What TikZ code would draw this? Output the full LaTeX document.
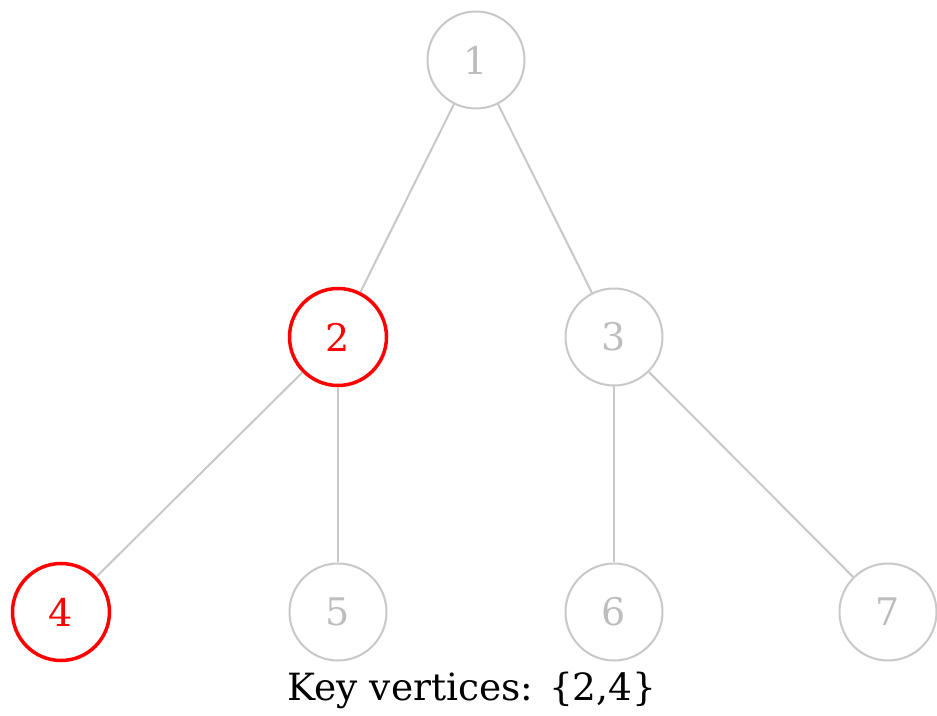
\documentclass[tikz,border=0pt]{standalone}
\usepackage{fontspec}
\setmainfont{DejaVu Serif}
\definecolor{edgegray}{HTML}{C8C8C8}
\definecolor{textgray}{HTML}{BDBDBD}
\definecolor{keyred}{HTML}{FF0000}
\begin{document}
\begin{tikzpicture}[x=1pt,y=1pt,
  vert/.style={circle,draw=edgegray,line width=2pt,minimum size=97pt,inner sep=0pt,
    text=textgray,font=\fontsize{38}{44}\selectfont},
  keyvert/.style={vert,draw=keyred,line width=3.5pt,text=keyred},
  edge/.style={draw=edgegray,line width=2pt}]
\useasboundingbox (0,0) rectangle (937,715);
\node[vert] (n1) at (476,655) {1};
\node[keyvert] (n2) at (338,378) {2};
\node[vert] (n3) at (614,378) {3};
\node[keyvert] (n4) at (61,103) {4};
\node[vert] (n5) at (338,103) {5};
\node[vert] (n6) at (614,103) {6};
\node[vert] (n7) at (888,103) {7};
\draw[edge] (n1) -- (n2);
\draw[edge] (n1) -- (n3);
\draw[edge] (n2) -- (n4);
\draw[edge] (n2) -- (n5);
\draw[edge] (n3) -- (n6);
\draw[edge] (n3) -- (n7);
\node[font=\fontsize{37.5}{44}\selectfont] (lbl) at (472,25) {Key vertices: \{2,4\}};
\end{tikzpicture}
\end{document}
